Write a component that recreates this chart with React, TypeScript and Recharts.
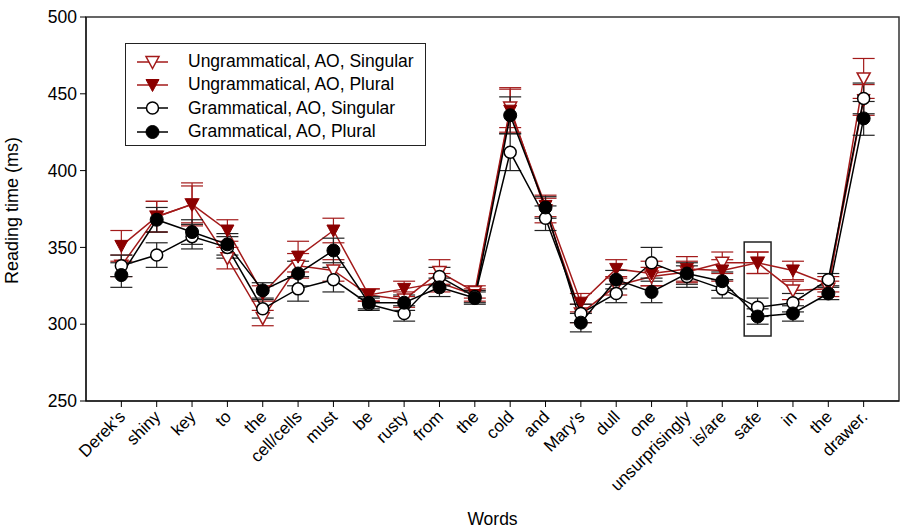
import React from 'react';
import { LineChart, Line, XAxis, YAxis, ErrorBar, ReferenceArea } from 'recharts';

const words = ["Derek's", 'shiny', 'key', 'to', 'the', 'cell/cells', 'must', 'be', 'rusty', 'from', 'the', 'cold', 'and', "Mary's", 'dull', 'one', 'unsurprisingly', 'is/are', 'safe', 'in', 'the', 'drawer.'];

const ugSingular = [338, 370, 378, 343, 304, 338, 335, 319, 316, 334, 321, 441, 374, 307, 325, 331, 334, 340, 340, 322, 323, 460];
const ugSingularErr = [7, 10, 12, 7, 5, 8, 7, 4, 5, 8, 4, 13, 8, 6, 6, 6, 7, 7, 7, 6, 5, 13];
const ugPlural = [351, 370, 378, 361, 320, 344, 361, 319, 323, 327, 319, 439, 377, 314, 336, 333, 336, 335, 340, 335, 326, 446];
const ugPluralErr = [10, 10, 14, 7, 5, 10, 8, 4, 5, 6, 4, 14, 7, 6, 6, 8, 8, 7, 7, 6, 5, 10];
const gSingular = [338, 345, 357, 350, 310, 323, 329, 313, 307, 331, 318, 412, 369, 307, 320, 340, 331, 323, 311, 314, 329, 447];
const gSingularErr = [7, 8, 8, 7, 6, 8, 8, 4, 5, 6, 4, 12, 8, 6, 6, 10, 7, 6, 6, 6, 4, 10];
const gPlural = [332, 368, 360, 352, 322, 333, 348, 314, 314, 324, 317, 436, 376, 301, 329, 321, 333, 328, 305, 307, 320, 434];
const gPluralErr = [8, 8, 8, 7, 5, 8, 8, 4, 5, 6, 4, 12, 7, 6, 6, 7, 7, 6, 5, 5, 4, 11];

const yTicks = [250, 300, 350, 400, 450, 500];
const xTicks = words.map((_, i) => i + 1);

const RED = '#a31a1a';
const DARKRED = '#8b0000';
const FONT = '"Liberation Sans", Arial, sans-serif';

const data = words.map((w, i) => ({
  x: i + 1,
  word: w,
  ugS: ugSingular[i],
  ugSErr: ugSingularErr[i],
  ugP: ugPlural[i],
  ugPErr: ugPluralErr[i],
  gS: gSingular[i],
  gSErr: gSingularErr[i],
  gP: gPlural[i],
  gPErr: gPluralErr[i],
}));

const triangle = (cx: number, cy: number) =>
  `${cx - 6.5},${cy - 5.5} ${cx + 6.5},${cy - 5.5} ${cx},${cy + 6.5}`;

const OpenTriangle = (props: any) => {
  const { cx, cy } = props;
  return <polygon points={triangle(cx, cy)} fill="#fff" stroke={RED} strokeWidth={1.5} />;
};
const FilledTriangle = (props: any) => {
  const { cx, cy } = props;
  return <polygon points={triangle(cx, cy)} fill={DARKRED} stroke={DARKRED} strokeWidth={1} />;
};
const OpenCircle = (props: any) => {
  const { cx, cy } = props;
  return <circle cx={cx} cy={cy} r={6} fill="#fff" stroke="#000" strokeWidth={1.5} />;
};
const FilledCircle = (props: any) => {
  const { cx, cy } = props;
  return <circle cx={cx} cy={cy} r={6.5} fill="#000" stroke="#000" />;
};

const WordTick = (props: any) => {
  const { x, y, payload } = props;
  const label = words[payload.value - 1];
  return (
    <g transform={`translate(${x + 2},${y + 6})`}>
      <text transform="rotate(-45)" textAnchor="end" dy={4} fontSize={17} fill="#000" fontFamily={FONT}>
        {label}
      </text>
    </g>
  );
};

const legendItems = [
  { name: 'Ungrammatical, AO, Singular', color: RED, marker: 'openTri' },
  { name: 'Ungrammatical, AO, Plural', color: RED, marker: 'fillTri' },
  { name: 'Grammatical, AO, Singular', color: '#000', marker: 'openCirc' },
  { name: 'Grammatical, AO, Plural', color: '#000', marker: 'fillCirc' },
];

const LegendBox = () => (
  <div
    style={{
      position: 'absolute',
      left: 125,
      top: 43,
      boxSizing: 'border-box',
      border: '1.5px solid #222',
      background: '#fff',
      width: 301,
      height: 103,
      padding: '6px 0 0 0',
      fontFamily: FONT,
      fontSize: 17.5,
      color: '#000',
    }}
  >
    {legendItems.map(item => (
      <div key={item.name} style={{ display: 'flex', alignItems: 'center', height: 23.3, lineHeight: '23px' }}>
        <svg width={62} height={16} style={{ flex: 'none' }}>
          <line x1={11} y1={8} x2={42} y2={8} stroke={item.color} strokeWidth={1.5} />
          {item.marker === 'openTri' && <OpenTriangle cx={26.5} cy={8} />}
          {item.marker === 'fillTri' && <FilledTriangle cx={26.5} cy={8} />}
          {item.marker === 'openCirc' && <OpenCircle cx={26.5} cy={8} />}
          {item.marker === 'fillCirc' && <FilledCircle cx={26.5} cy={8} />}
        </svg>
        <span>{item.name}</span>
      </div>
    ))}
  </div>
);

export default function App() {
  return (
    <div style={{ position: 'absolute', left: 0, top: 0, width: 903, height: 530, background: '#fff' }}>
      <LineChart width={903} height={530} data={data} margin={{ top: 17, right: 4, bottom: 0, left: 0 }}>
        <XAxis
          dataKey="x"
          type="number"
          domain={[0, 23]}
          ticks={xTicks}
          interval={0}
          tick={<WordTick />}
          tickSize={6}
          height={129}
          stroke="#000"
          tickLine={{ stroke: '#000' }}
          label={{ value: 'Words', position: 'insideBottom', offset: 5, fontSize: 17.5, fill: '#000', fontFamily: FONT }}
        />
        <YAxis
          type="number"
          domain={[250, 500]}
          ticks={yTicks}
          width={86}
          tickSize={6}
          tickMargin={3}
          stroke="#000"
          tick={{ fontSize: 17.5, fill: '#000', fontFamily: FONT }}
          label={{ value: 'Reading time (ms)', angle: -90, position: 'insideLeft', offset: 12, dy: 75, fontSize: 18, fill: '#000', fontFamily: FONT }}
        />
        <ReferenceArea x1={0} x2={23} y1={250} y2={500} fill="none" stroke="#333" strokeWidth={1.5} fillOpacity={0} />
        <ReferenceArea x1={18.62} x2={19.38} y1={292.3} y2={353.5} fill="none" fillOpacity={0} stroke="#222" strokeWidth={1.5} />
        <Line type="linear" dataKey="ugS" name="Ungrammatical, AO, Singular" stroke={RED} strokeWidth={1.5} dot={<OpenTriangle />} isAnimationActive={false}>
          <ErrorBar dataKey="ugSErr" direction="y" width={11} stroke={RED} strokeWidth={1.2} />
        </Line>
        <Line type="linear" dataKey="ugP" name="Ungrammatical, AO, Plural" stroke={RED} strokeWidth={1.5} dot={<FilledTriangle />} isAnimationActive={false}>
          <ErrorBar dataKey="ugPErr" direction="y" width={11} stroke={RED} strokeWidth={1.2} />
        </Line>
        <Line type="linear" dataKey="gS" name="Grammatical, AO, Singular" stroke="#000" strokeWidth={1.5} dot={<OpenCircle />} isAnimationActive={false}>
          <ErrorBar dataKey="gSErr" direction="y" width={11} stroke="#222" strokeWidth={1.2} />
        </Line>
        <Line type="linear" dataKey="gP" name="Grammatical, AO, Plural" stroke="#000" strokeWidth={1.5} dot={<FilledCircle />} isAnimationActive={false}>
          <ErrorBar dataKey="gPErr" direction="y" width={11} stroke="#222" strokeWidth={1.2} />
        </Line>
      </LineChart>
      <LegendBox />
    </div>
  );
}
